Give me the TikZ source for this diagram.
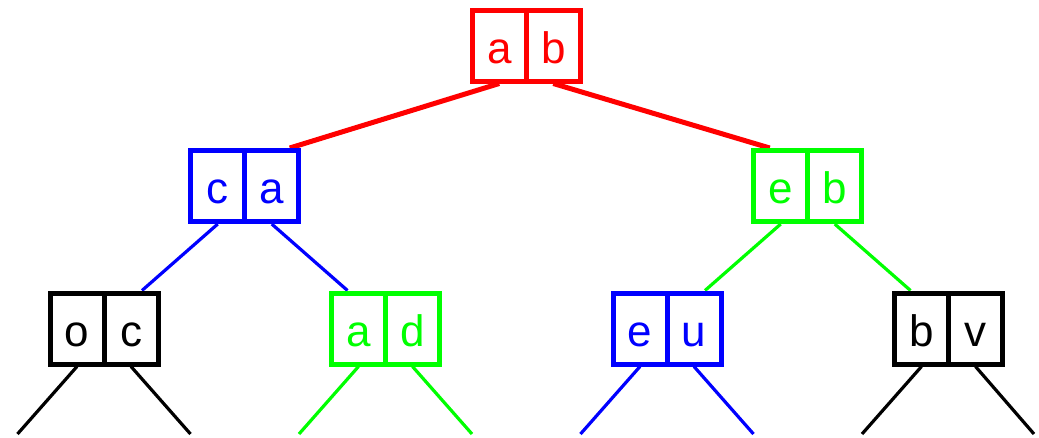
\documentclass[tikz,border=0pt]{standalone}
\usepackage{fontspec}
\setmainfont{Liberation Sans}
\usetikzlibrary{backgrounds}
\definecolor{pureGreen}{RGB}{0,255,0}
\begin{document}
\begin{tikzpicture}[x=1pt,y=-1pt,
  half/.style={draw=#1, text=#1, line width=5pt, fill=white,
    minimum width=54pt, minimum height=71pt, inner sep=0pt,
    text height=35pt, text depth=0pt, font=\fontsize{44}{44}\selectfont},
  topedge/.style={draw=red, line width=5pt},
  treeedge/.style={draw=#1, line width=3.2pt}]
\useasboundingbox (0,0) rectangle (1039,437);
% level 1
\node[half=red] (rootL) at (499.25,45.5) {a};
\node[half=red] (rootR) at (553.25,45.5) {b};
% level 2
\node[half=blue] (caL) at (217.75,186) {c};
\node[half=blue] (caR) at (271.75,186) {a};
\node[half=pureGreen] (ebL) at (780.75,186) {e};
\node[half=pureGreen] (ebR) at (834.75,186) {b};
% level 3
\node[half=black] (ocL) at (77,328.5) {o};
\node[half=black] (ocR) at (131,328.5) {c};
\node[half=pureGreen] (adL) at (358.5,328.5) {a};
\node[half=pureGreen] (adR) at (412.5,328.5) {d};
\node[half=blue] (euL) at (640,328.5) {e};
\node[half=blue] (euR) at (694,328.5) {u};
\node[half=black] (bvL) at (921.5,328.5) {b};
\node[half=black] (bvR) at (975.5,328.5) {v};
% leaf ends
\coordinate (ocA) at (17.5,434);
\coordinate (ocB) at (190.5,434);
\coordinate (adA) at (299,434);
\coordinate (adB) at (472,434);
\coordinate (euA) at (580.5,434);
\coordinate (euB) at (753.5,434);
\coordinate (bvA) at (862,434);
\coordinate (bvB) at (1034,434);
\begin{pgfonlayer}{background}
\draw[topedge] (rootL.south) -- ([xshift=18pt]caR.north);
\draw[topedge] (rootR.south) -- ([xshift=-11pt]ebL.north);
\draw[treeedge=blue] (caL.south) -- ([xshift=11pt]ocR.north);
\draw[treeedge=blue] (caR.south) -- ([xshift=-11pt]adL.north);
\draw[treeedge=pureGreen] (ebL.south) -- ([xshift=11pt]euR.north);
\draw[treeedge=pureGreen] (ebR.south) -- ([xshift=-11pt]bvL.north);
\draw[treeedge=black] (ocL.south) -- (ocA);
\draw[treeedge=black] (ocR.south) -- (ocB);
\draw[treeedge=pureGreen] (adL.south) -- (adA);
\draw[treeedge=pureGreen] (adR.south) -- (adB);
\draw[treeedge=blue] (euL.south) -- (euA);
\draw[treeedge=blue] (euR.south) -- (euB);
\draw[treeedge=black] (bvL.south) -- (bvA);
\draw[treeedge=black] (bvR.south) -- (bvB);
\end{pgfonlayer}
\end{tikzpicture}
\end{document}
